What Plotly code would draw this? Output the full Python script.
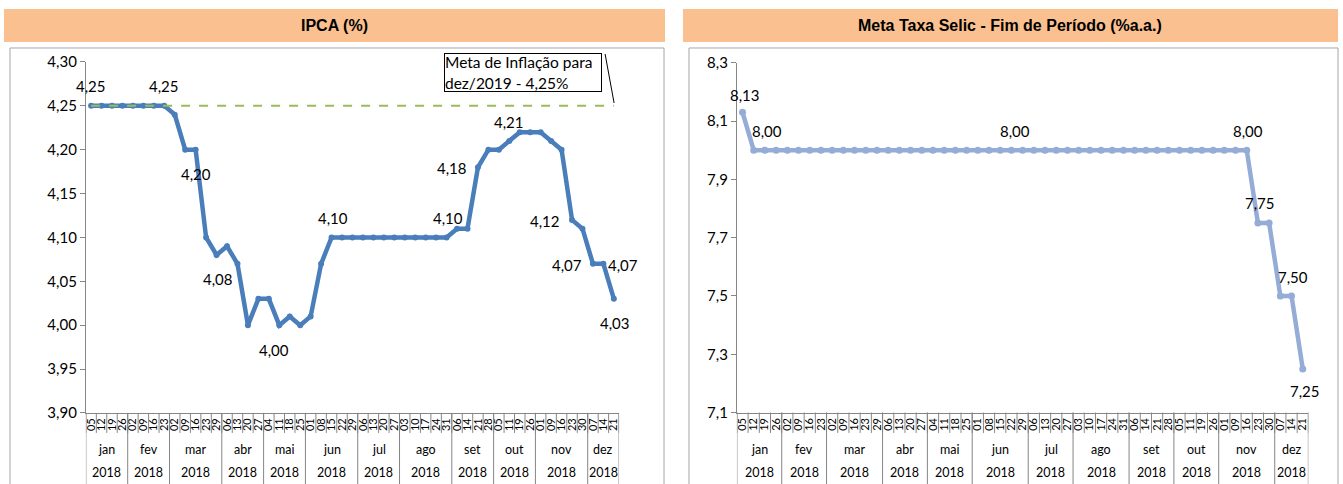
import plotly.graph_objects as go

# ---------------- data ----------------
months = ["jan", "fev", "mar", "abr", "mai", "jun", "jul", "ago", "set", "out", "nov", "dez"]
year = "2018"
days_by_month = [
    ["05", "12", "19", "26"],
    ["02", "09", "16", "23"],
    ["02", "09", "16", "23", "29"],
    ["06", "13", "20", "27"],
    ["04", "11", "18", "25"],
    ["01", "08", "15", "22", "29"],
    ["06", "13", "20", "27"],
    ["03", "10", "17", "24", "31"],
    ["06", "14", "21", "28"],
    ["05", "11", "19", "26"],
    ["01", "09", "16", "23", "30"],
    ["07", "14", "21"],
]
ipca = [4.25, 4.25, 4.25, 4.25, 4.25, 4.25, 4.25, 4.25,
        4.24, 4.20, 4.20, 4.10, 4.08,
        4.09, 4.07, 4.00, 4.03,
        4.03, 4.00, 4.01, 4.00,
        4.01, 4.07, 4.10, 4.10, 4.10,
        4.10, 4.10, 4.10, 4.10,
        4.10, 4.10, 4.10, 4.10, 4.10,
        4.11, 4.11, 4.18, 4.20,
        4.20, 4.21, 4.22, 4.22,
        4.22, 4.21, 4.20, 4.12, 4.11,
        4.07, 4.07, 4.03]
meta_inflacao = 4.25
selic = [8.13] + [8.00] * 45 + [7.75, 7.75, 7.50, 7.50, 7.25]

# labelled points: (index, x offset px, y offset px; positive = below)
ipca_labels = [(0, 0, -19), (7, 0, -19), (10, 0, 23), (12, 1, 23), (18, -5, 24),
               (23, 1, -19), (34, 1, -19), (37, -26, 1), (40, 0, -18),
               (46, -27, 1), (48, -26, 1), (49, 20, 1), (50, 1, 23)]
selic_labels = [(0, 2, -17), (1, 13, -18), (24, 4, -18), (45, 1, -18),
                (46, 2, -19), (48, 13, -18), (50, 2, 21)]

# ---------------- derived ----------------
days = [d for m in days_by_month for d in m]
idx = list(range(len(days)))
month_starts = []
s = 0
for m in days_by_month:
    month_starts.append(s)
    s += len(m)

W, H = 1343, 484
# the photographed page is vertically offset/scaled slightly; compensate
Y0, YS = 9.0, 0.963
def px(x):
    return x / W
def py(y):
    return 1 - ((y - Y0) / YS) / H

BLUE = "#4A7EBB"
LBLUE = "#95ADD6"
GREEN = "#9BBB59"
AX = "#868686"
FONT = "Lato, Carlito, Calibri, sans-serif"

fig = go.Figure()

fig.add_trace(go.Scatter(x=idx, y=ipca, mode="lines+markers",
                         line=dict(color=BLUE, width=4.5), marker=dict(size=6, color=BLUE),
                         xaxis="x", yaxis="y", showlegend=False, hoverinfo="y"))
fig.add_trace(go.Scatter(x=idx, y=[meta_inflacao] * len(idx), mode="lines",
                         line=dict(color=GREEN, width=2, dash="dash"),
                         xaxis="x", yaxis="y", showlegend=False, hoverinfo="skip"))
fig.add_trace(go.Scatter(x=idx, y=selic, mode="lines+markers",
                         line=dict(color=LBLUE, width=4.5), marker=dict(size=7, color=LBLUE),
                         xaxis="x2", yaxis="y2", showlegend=False, hoverinfo="y"))

panels = [
    dict(xa="x", ya="y", xdom=(84, 618), ydom=(412, 61), yr=(3.90, 4.30), dt=0.05, fmt=".2f",
         box=(8, 47, 663), band=(2, 664), title="IPCA (%)"),
    dict(xa="x2", ya="y2", xdom=(736, 1308.3), ydom=(411.7, 61.7), yr=(7.1, 8.3), dt=0.2, fmt=".1f",
         box=(688, 47, 1338), band=(682, 1338), title="Meta Taxa Selic - Fim de Período (%a.a.)"),
]

shapes = []
annotations = []
for k, p in enumerate(panels):
    sfx = "" if k == 0 else "2"
    fig.update_layout(**{
        "xaxis" + sfx: dict(domain=[px(p["xdom"][0]), px(p["xdom"][1])], anchor="y" + sfx,
                            range=[-0.5, len(idx) - 0.5], tickmode="array", tickvals=idx,
                            ticktext=days, tickangle=-90, ticks="", showgrid=False,
                            zeroline=False, showline=True, linecolor=AX, linewidth=1,
                            tickfont=dict(family=FONT, size=11, color="#000")),
        "yaxis" + sfx: dict(domain=[py(p["ydom"][0]), py(p["ydom"][1])], anchor="x" + sfx,
                            range=list(p["yr"]), dtick=p["dt"], tick0=p["yr"][0],
                            tickformat=p["fmt"], ticks="outside", ticklen=5, tickcolor=AX,
                            showgrid=False, zeroline=False, showline=True, linecolor=AX,
                            linewidth=1, tickfont=dict(family=FONT, size=15, color="#000")),
    })
    shapes.append(dict(type="rect", xref="paper", yref="paper", x0=px(p["band"][0]), x1=px(p["band"][1]),
                       y0=py(41), y1=py(8), fillcolor="#FAC090", line=dict(width=0), layer="below"))
    shapes.append(dict(type="rect", xref="paper", yref="paper", x0=px(p["box"][0]), x1=px(p["box"][2]),
                       y0=-0.05, y1=py(p["box"][1]), fillcolor="rgba(0,0,0,0)",
                       line=dict(color="#A6A6A6", width=1), layer="below"))
    annotations.append(dict(xref="paper", yref="paper", x=(px(p["band"][0]) + px(p["band"][1])) / 2,
                            y=py(24.5), xanchor="center", yanchor="middle",
                            text="<b>%s</b>" % p["title"], showarrow=False,
                            font=dict(family="Liberation Sans Narrow, Arial Narrow, Liberation Sans, Arial",
                                      size=16, color="#000")))
    for i in range(len(idx) + 1):
        shapes.append(dict(type="line", xref=p["xa"], yref="paper", x0=i - 0.5, x1=i - 0.5,
                           y0=py(p["ydom"][0]), y1=py(432), line=dict(color=AX, width=1)))
    for j, m in enumerate(months):
        st = month_starts[j]
        n = len(days_by_month[j])
        shapes.append(dict(type="line", xref=p["xa"], yref="paper", x0=st - 0.5, x1=st - 0.5,
                           y0=py(p["ydom"][0]), y1=-0.05, line=dict(color=AX, width=1)))
        cx = st + (n - 1) / 2
        annotations.append(dict(xref=p["xa"], yref="paper", x=cx, y=py(449), text=m, showarrow=False,
                                xanchor="center", yanchor="middle",
                                font=dict(family=FONT, size=12.5, color="#000")))
        annotations.append(dict(xref=p["xa"], yref="paper", x=cx, y=py(472), text=year, showarrow=False,
                                xanchor="center", yanchor="middle",
                                font=dict(family=FONT, size=12.5, color="#000")))
    shapes.append(dict(type="line", xref=p["xa"], yref="paper", x0=len(idx) - 0.5, x1=len(idx) - 0.5,
                       y0=py(p["ydom"][0]), y1=-0.05, line=dict(color=AX, width=1)))

for i, dx, dy in ipca_labels:
    annotations.append(dict(xref="x", yref="y", x=i, y=ipca[i], text=("%.2f" % ipca[i]).replace(".", ","),
                            showarrow=False, xshift=dx, yshift=-dy / YS, xanchor="center", yanchor="middle",
                            font=dict(family=FONT, size=15, color="#000")))
for i, dx, dy in selic_labels:
    annotations.append(dict(xref="x2", yref="y2", x=i, y=selic[i], text=("%.2f" % selic[i]).replace(".", ","),
                            showarrow=False, xshift=dx, yshift=-dy / YS, xanchor="center", yanchor="middle",
                            font=dict(family=FONT, size=15, color="#000")))

annotations.append(dict(xref="paper", yref="paper", x=px(443), y=py(52), xanchor="left", yanchor="top",
                        text="Meta de Inflação para<br>dez/2019 - 4,25%", align="left", valign="middle",
                        showarrow=False, width=156, height=37,
                        bordercolor="#000", borderwidth=1, borderpad=0, bgcolor="#fff",
                        font=dict(family=FONT, size=15.5, color="#000")))
shapes.append(dict(type="line", xref="paper", yref="paper", x0=px(604), y0=py(53), x1=px(613), y1=py(102),
                   line=dict(color="#000", width=1)))

fig.update_layout(width=W, height=H, autosize=False, margin=dict(l=0, r=0, t=0, b=0),
                  paper_bgcolor="#fff", plot_bgcolor="#fff", separators=",.",
                  shapes=shapes, annotations=annotations, showlegend=False)

fig.write_html("out.html", config={"displayModeBar": False, "responsive": False},
               post_script="document.body.style.margin='0';document.body.style.padding='0';"
                           "document.body.style.overflow='hidden';")
